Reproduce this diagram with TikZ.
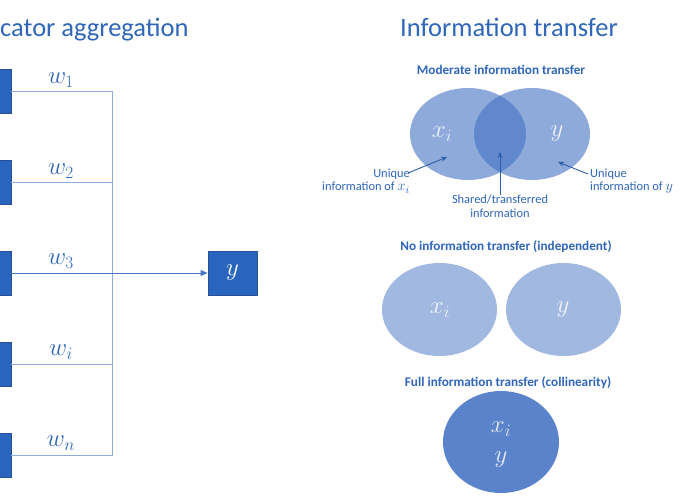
\documentclass[tikz,border=0pt]{standalone}
\usepackage{fontspec}
\setmainfont{Carlito}
\usetikzlibrary{arrows.meta}
\definecolor{tblue}{RGB}{47,102,186}
\definecolor{boxfill}{RGB}{41,101,190}
\definecolor{boxdraw}{RGB}{40,80,150}
\definecolor{linec}{RGB}{143,170,220}
\definecolor{arrc}{RGB}{70,115,195}
\definecolor{ellc}{RGB}{68,114,196}
\definecolor{lblc}{RGB}{45,95,170}
\newcommand{\bigmath}[1]{{\fontsize{15}{15}\selectfont$#1$}}
\tikzset{
  ibox/.style={draw=boxdraw, line width=0.8pt, fill=boxfill, minimum width=51pt, minimum height=44pt, inner sep=0pt},
  ybox/.style={draw=boxdraw, line width=0.8pt, fill=boxfill, minimum width=49pt, minimum height=44pt, inner sep=0pt, text=white, font=\fontsize{25}{28}\selectfont},
  tree/.style={draw=linec, line width=0.9pt},
  mainarr/.style={draw=arrc, line width=0.9pt, -{Triangle[length=7pt,width=6pt]}},
  wlab/.style={text=tblue, font=\fontsize{24}{26}\selectfont, inner sep=0pt},
  bigtitle/.style={text=tblue, font=\fontsize{26.5}{30}\selectfont, inner sep=0pt},
  subtitle/.style={text=tblue, font=\fontsize{13.2}{15}\selectfont\bfseries, inner sep=0pt},
  small/.style={text=tblue, font=\fontsize{12.4}{13.6}\selectfont, inner sep=0pt},
  ellmod/.style={fill=ellc, fill opacity=0.6, draw=none},
  ellno/.style={fill=ellc, fill opacity=0.5, draw=none},
  ellfull/.style={fill=ellc, fill opacity=0.88, draw=none},
  elab/.style={text=white, text opacity=0.85, font=\fontsize{25}{28}\selectfont, inner sep=0pt},
  lblarr/.style={draw=lblc, line width=0.9pt, -{Stealth[length=6pt,width=5pt]}}
}
\begin{document}
\begin{tikzpicture}[x=1pt,y=-1pt]
\useasboundingbox (0,0) rectangle (680,500);
\clip (0,0) rectangle (680,500);
\fill[white] (0,0) rectangle (680,500);
% left part
\node[bigtitle, anchor=base west] (lt) at (0,37) {cator aggregation};
\node[ibox] (b1) at (-14.5,91) {};
\node[ibox] (b2) at (-14.5,182) {};
\node[ibox] (b3) at (-14.5,273) {};
\node[ibox] (b4) at (-14.5,364) {};
\node[ibox] (b5) at (-14.5,455) {};
\node[ybox] (yb) at (232.5,273) {$y$};
\coordinate (j) at (112,273);
\draw[tree] (b1.east) -| (j);
\draw[tree] (b2.east) -| (j);
\draw[tree] (b4.east) -| (j);
\draw[tree] (b5.east) -| (j);
\draw[mainarr] (b3.east) -- (yb.west);
\node[wlab] (w1) at (61,80) {$w_1$};
\node[wlab] (w2) at (61,171) {$w_2$};
\node[wlab] (w3) at (61,261) {$w_3$};
\node[wlab] (wi) at (61,352) {$w_i$};
\node[wlab] (wn) at (61,443) {$w_n$};
% right part
\node[bigtitle, anchor=base] (rt) at (509,37) {Information transfer};
\node[subtitle] (h1) at (501,70) {Moderate information transfer};
\fill[ellmod] (468,134) ellipse [x radius=58, y radius=46];
\fill[ellmod] (532,134) ellipse [x radius=58, y radius=46];
\node[elab] (mx) at (442,134) {$x_i$};
\node[elab] (my) at (557,134) {$y$};
\node[small, align=right, anchor=east] (ux) at (410,181) {Unique\\information of \bigmath{x_i}};
\node[small, align=center, anchor=north] (sh) at (500,195) {Shared/transferred\\information};
\node[small, align=left, anchor=west] (uy) at (590,181) {Unique\\information of \bigmath{y}};
\coordinate (tx) at (447,157);
\coordinate (ts) at (500,152);
\coordinate (ty) at (558,162);
\draw[lblarr] (408,173) -- (tx);
\draw[lblarr] (sh.north) -- (ts);
\draw[lblarr] (588,174) -- (ty);
\node[subtitle] (h2) at (506,247) {No information transfer (independent)};
\fill[ellno] (439.5,309.5) ellipse [x radius=57.5, y radius=46.5];
\fill[ellno] (563.5,309.5) ellipse [x radius=57.5, y radius=46.5];
\node[elab] (nx) at (440,310) {$x_i$};
\node[elab] (ny) at (563,310) {$y$};
\node[subtitle] (h3) at (508,383) {Full information transfer (collinearity)};
\fill[ellfull] (501,442) ellipse [x radius=58, y radius=51];
\node[elab] (fx) at (501,429) {$x_i$};
\node[elab] (fy) at (501,460) {$y$};
\end{tikzpicture}
\end{document}
